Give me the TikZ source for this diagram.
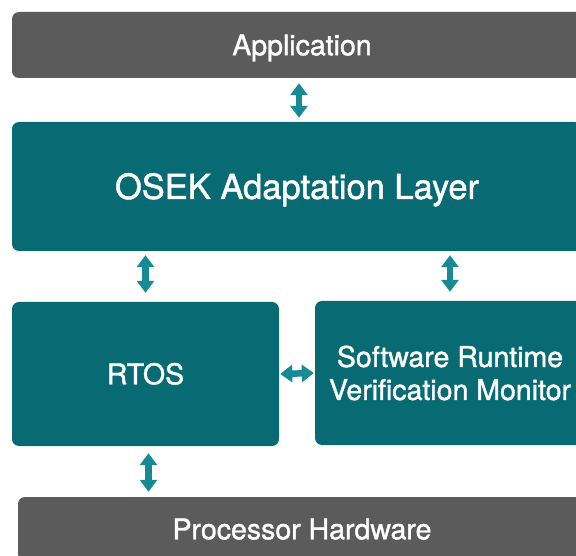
\documentclass[tikz,border=0pt]{standalone}
\usepackage{fontspec}
\setmainfont{TeX Gyre Heros}[FakeBold=1.3]
\usetikzlibrary{arrows.meta}
\definecolor{boxgray}{HTML}{5B5B5B}
\definecolor{boxteal}{HTML}{086B74}
\definecolor{arrowteal}{HTML}{178A93}
\begin{document}
\begin{tikzpicture}[x=1pt,y=-1pt,
  blk/.style={rounded corners=7pt, inner sep=0pt, text=white, align=center,
    font=\fontsize{28.5}{33}\selectfont},
  oneline/.style={text height=20.5pt, text depth=0pt},
  graybox/.style={blk, fill=boxgray},
  tealbox/.style={blk, fill=boxteal},
  dbl/.style={draw=arrowteal, line width=6.5pt,
    {Triangle[length=12pt,width=17pt]}-{Triangle[length=12pt,width=17pt]}}]
\useasboundingbox (0,0) rectangle (576,556);
\clip (0,0) rectangle (576,556);
\node[graybox, oneline, minimum width=580pt, minimum height=66pt] (app) at (302,45) {Application};
\node[tealbox, oneline, text height=24.8pt, minimum width=570pt, minimum height=129pt,
  font=\fontsize{34.5}{40}\selectfont] (osek) at (297,186.5) {OSEK Adaptation Layer};
\node[tealbox, oneline, minimum width=267pt, minimum height=144pt] (rtos) at (145.5,374) {RTOS};
\node[tealbox, minimum width=270pt, minimum height=144pt] (srvm) at (450,373)
  {Software Runtime\\Verification Monitor};
\node[graybox, oneline, minimum width=568pt, minimum height=64pt] (hw) at (302,529) {Processor Hardware};
\draw[dbl, shorten <=5pt, shorten >=4pt] ([xshift=-3pt]app.south) -- ([xshift=-3pt]app.south |- osek.north);
\draw[dbl, shorten <=4pt, shorten >=9pt] (osek.south -| rtos.north) -- (rtos.north);
\draw[dbl, shorten <=4pt, shorten >=9pt] (osek.south -| srvm.north) -- (srvm.north);
\draw[dbl, shorten <=1pt, shorten >=1pt] (rtos.east) -- (srvm.west);
\draw[dbl, shorten <=7pt, shorten >=5pt] ([xshift=3pt]rtos.south) -- ([xshift=3pt]rtos.south |- hw.north);
\end{tikzpicture}
\end{document}
